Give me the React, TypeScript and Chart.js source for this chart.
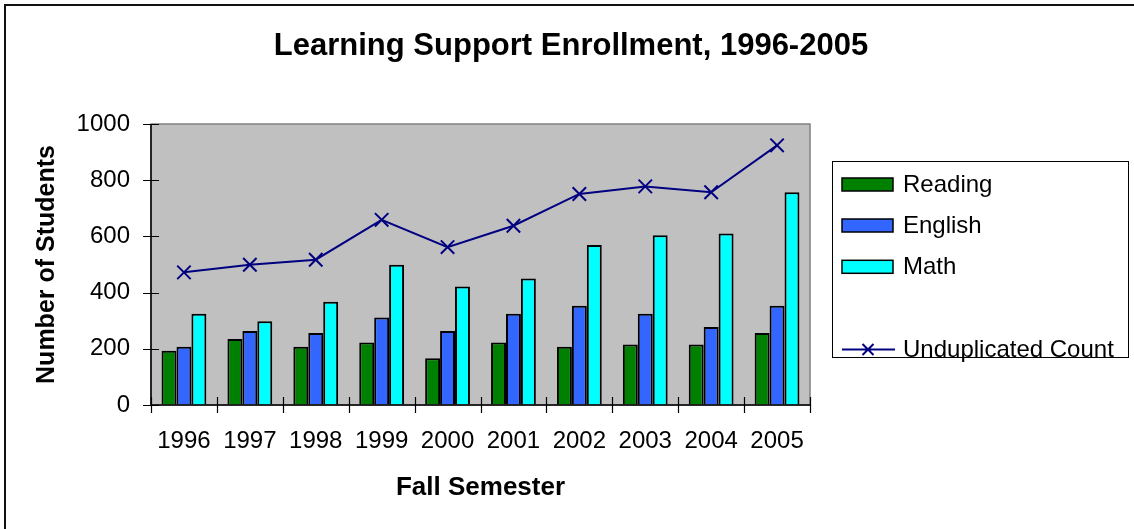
import React, { useEffect, useRef } from "react";
import { Chart, registerables } from "chart.js";

Chart.register(...registerables);

const chartTitle = "Learning Support Enrollment, 1996-2005";
const years = ["1996", "1997", "1998", "1999", "2000", "2001", "2002", "2003", "2004", "2005"];
const reading = [193, 235, 207, 222, 166, 222, 207, 215, 215, 256];
const english = [207, 263, 256, 311, 263, 325, 353, 325, 278, 353];
const math = [325, 298, 367, 499, 422, 450, 569, 604, 610, 757];
const unduplicated = [472, 499, 517, 659, 562, 638, 751, 778, 757, 924];
const yTicks = [0, 200, 400, 600, 800, 1000];

const FONT = "'Liberation Sans', Arial, Helvetica, sans-serif";
const W = 1134;
const H = 529;

const chromePlugin = {
  id: "chrome",
  beforeDraw(chart: any) {
    const { ctx, chartArea: a } = chart;
    ctx.save();
    ctx.fillStyle = "#ffffff";
    ctx.fillRect(0, 0, W, H);
    // outer frame (top & left visible)
    ctx.strokeStyle = "#111111";
    ctx.lineWidth = 2;
    ctx.beginPath();
    ctx.moveTo(5, H + 2);
    ctx.lineTo(5, 5);
    ctx.lineTo(W + 2, 5);
    ctx.stroke();
    // title
    ctx.fillStyle = "#000000";
    ctx.font = `bold 31px ${FONT}`;
    ctx.textAlign = "center";
    ctx.textBaseline = "middle";
    ctx.fillText(chartTitle, 571, 46);
    // plot area
    ctx.fillStyle = "#C0C0C0";
    ctx.fillRect(a.left, a.top, a.right - a.left, a.bottom - a.top);
    ctx.strokeStyle = "#808080";
    ctx.lineWidth = 1.5;
    ctx.strokeRect(a.left, a.top, a.right - a.left, a.bottom - a.top);
    ctx.restore();
  },
  afterDatasetsDraw(chart: any) {
    const { ctx, chartArea: a, scales } = chart;
    const y = scales.y;
    ctx.save();
    ctx.strokeStyle = "#000000";
    ctx.lineWidth = 1.5;
    ctx.beginPath();
    ctx.moveTo(a.left, a.top);
    ctx.lineTo(a.left, a.bottom);
    ctx.lineTo(a.right, a.bottom);
    ctx.stroke();
    ctx.lineWidth = 1.2;
    ctx.beginPath();
    yTicks.forEach((v) => {
      const py = Math.round(y.getPixelForValue(v)) + 0.5;
      ctx.moveTo(a.left - 8, py);
      ctx.lineTo(a.left + 8, py);
    });
    const n = years.length;
    for (let i = 0; i <= n; i++) {
      const px = Math.round(a.left + ((a.right - a.left) * i) / n) + 0.5;
      ctx.moveTo(px, a.bottom - 8);
      ctx.lineTo(px, a.bottom + 8);
    }
    ctx.stroke();
    ctx.restore();
  },
  afterDraw(chart: any) {
    const { ctx } = chart;
    const ds = chart.data.datasets;
    ctx.save();
    ctx.strokeStyle = "#000000";
    ctx.lineWidth = 1;
    ctx.strokeRect(832.5, 161.5, 296, 196);
    ctx.font = `24px ${FONT}`;
    ctx.textBaseline = "middle";
    ctx.textAlign = "left";
    const rows = [184.5, 225.5, 266.8, 349.5];
    ds.forEach((d: any, i: number) => {
      const cy = rows[i];
      if (d.type === "line") {
        ctx.strokeStyle = d.borderColor;
        ctx.lineWidth = 2;
        ctx.beginPath();
        ctx.moveTo(842, cy);
        ctx.lineTo(895, cy);
        const r = 5.5;
        ctx.moveTo(868 - r, cy - r);
        ctx.lineTo(868 + r, cy + r);
        ctx.moveTo(868 - r, cy + r);
        ctx.lineTo(868 + r, cy - r);
        ctx.stroke();
      } else {
        ctx.fillStyle = d.backgroundColor;
        ctx.fillRect(842, cy - 6.5, 51, 13);
        ctx.strokeStyle = "#000000";
        ctx.lineWidth = 1.5;
        ctx.strokeRect(842, cy - 6.5, 51, 13);
      }
      ctx.fillStyle = "#000000";
      ctx.fillText(d.label, 903, cy + 1);
    });
    ctx.restore();
  },
};

export default function App() {
  const ref = useRef<HTMLCanvasElement | null>(null);
  useEffect(() => {
    if (!ref.current) return;
    const chart = new Chart(ref.current, {
      type: "bar",
      data: {
        labels: years,
        datasets: [
          { type: "bar", label: "Reading", data: reading, backgroundColor: "#008000", borderColor: "#000000", borderWidth: 2, order: 1 },
          { type: "bar", label: "English", data: english, backgroundColor: "#3366FF", borderColor: "#000000", borderWidth: 2, order: 1 },
          { type: "bar", label: "Math", data: math, backgroundColor: "#00FFFF", borderColor: "#000000", borderWidth: 2, order: 1 },
          {
            type: "line",
            label: "Unduplicated Count",
            data: unduplicated,
            borderColor: "#000080",
            backgroundColor: "#000080",
            borderWidth: 2,
            pointStyle: "crossRot",
            pointRadius: 9.5,
            pointBorderWidth: 2,
            pointBorderColor: "#000080",
            fill: false,
            tension: 0,
            order: 0,
          } as any,
        ],
      },
      options: {
        responsive: false,
        animation: false,
        layout: { padding: { left: 0, right: W - 810, top: 124, bottom: 0 } },
        datasets: { bar: { categoryPercentage: 0.68, barPercentage: 1 } } as any,
        plugins: {
          legend: { display: false },
          tooltip: { enabled: false },
          title: { display: false },
        },
        scales: {
          x: {
            grid: { display: true, drawOnChartArea: false, drawTicks: true, tickLength: 8, color: "rgba(0,0,0,0)" },
            border: { display: false },
            ticks: { color: "#000000", font: { family: FONT, size: 24 }, padding: 14, maxRotation: 0, autoSkip: false },
            title: {
              display: true,
              text: "Fall Semester",
              color: "#000000",
              font: { family: FONT, size: 26, weight: "bold", lineHeight: 1.2 },
              padding: { top: 0, bottom: 26 },
            },
            afterFit: (s: any) => {
              s.height = 124;
            },
          },
          y: {
            min: 0,
            max: 1000,
            grid: { display: true, drawOnChartArea: false, drawTicks: true, tickLength: 8, color: "rgba(0,0,0,0)" },
            border: { display: false },
            ticks: {
              stepSize: 200,
              color: "#000000",
              font: { family: FONT, size: 24 },
              padding: 13,
              callback: (v: any) => String(v),
            },
            title: {
              display: true,
              text: "Number of Students",
              color: "#000000",
              font: { family: FONT, size: 25, weight: "bold", lineHeight: 1.2 },
              padding: { top: 32, bottom: 0 },
            },
            afterFit: (s: any) => {
              s.width = 151;
            },
          },
        },
      },
      plugins: [chromePlugin],
    });
    return () => chart.destroy();
  }, []);
  return (
    <div style={{ position: "fixed", left: 0, top: 0, width: W, height: H, background: "#fff" }}>
      <canvas ref={ref} width={W} height={H} style={{ display: "block", width: W, height: H }} />
    </div>
  );
}
